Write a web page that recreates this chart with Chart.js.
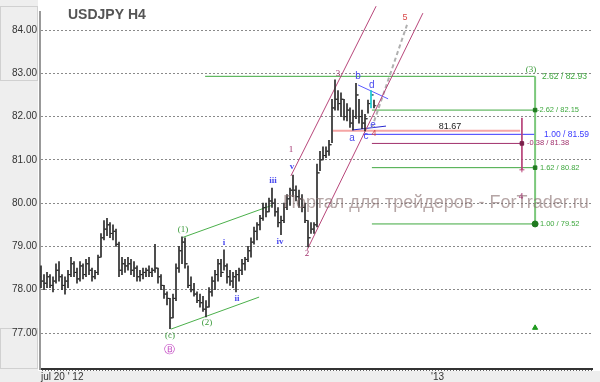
<!DOCTYPE html>
<html>
<head>
<meta charset="utf-8">
<script src="https://cdn.jsdelivr.net/npm/chart.js@4.4.0/dist/chart.umd.min.js"></script>
<style>
  html, body { margin: 0; padding: 0; background: #fff; }
</style>
</head>
<body>
<canvas id="myChart" width="600" height="382"></canvas>
<script>
// USDJPY H4 bars, one every bar index (x = bar number from jul 20 '12)
const highs = [78.55,78.35,78.4,78.35,78.3,78.6,78.65,78.35,78.3,78.45,
  78.75,78.65,78.5,78.65,78.6,78.7,78.75,78.5,78.45,78.8,
  79.3,79.6,79.65,79.55,79.5,79.4,79.1,78.75,78.7,78.75,
  78.7,78.65,78.55,78.45,78.5,78.5,78.55,78.5,79.05,78.5,
  78.35,78.1,77.95,77.8,77.9,78.6,79.0,79.22,79.2,78.55,
  78.3,78.15,77.95,77.9,77.85,77.75,78.05,78.3,78.45,78.7,
  78.7,78.92,78.6,78.45,78.4,78.45,78.5,78.7,78.75,79.0,
  79.2,79.45,79.55,79.72,80.0,80.0,80.12,80.35,80.1,79.9,
  79.7,80.0,80.2,80.35,80.65,80.4,80.3,80.2,80.0,79.6,
  79.55,79.55,80.9,81.2,81.3,81.3,81.45,82.4,82.85,82.6,
  82.55,82.4,82.3,82.2,82.15,82.77,82.4,82.15,82.05,82.38,
  82.6,82.38];
const lows = [78.05,78.0,78.05,78.05,77.95,78.15,78.2,78.0,77.9,78.05,
  78.3,78.3,78.15,78.2,78.25,78.3,78.35,78.2,78.25,78.35,
  78.75,79.15,79.25,79.2,79.15,79.0,78.3,78.35,78.4,78.45,
  78.35,78.3,78.2,78.2,78.25,78.3,78.3,78.3,78.4,78.15,
  78.0,77.8,77.65,77.1,77.35,77.75,78.4,78.6,78.5,78.05,
  77.95,77.85,77.7,77.6,77.5,77.37,77.6,77.85,78.0,78.2,
  78.3,78.45,78.15,78.1,78.05,77.95,78.2,78.35,78.45,78.65,
  78.75,79.05,79.15,79.38,79.6,79.68,79.8,79.9,79.7,79.45,
  79.27,79.55,79.85,79.95,80.15,80.05,79.9,79.8,79.55,78.99,
  79.3,79.3,79.45,80.75,81.0,81.05,81.1,81.4,82.15,82.15,
  82.0,81.92,81.9,81.75,81.69,81.95,81.85,81.72,81.67,82.08,
  82.2,82.2];
const closes = [78.2,78.15,78.3,78.1,78.2,78.45,78.3,78.1,78.2,78.35,
  78.6,78.4,78.25,78.55,78.35,78.6,78.45,78.3,78.4,78.75,
  79.2,79.4,79.5,79.3,79.35,79.05,78.45,78.6,78.55,78.6,
  78.45,78.5,78.3,78.35,78.4,78.45,78.4,78.45,78.5,78.3,
  78.1,77.9,77.8,77.35,77.8,78.5,78.9,79.1,78.6,78.1,
  78.0,77.9,77.75,77.7,77.55,77.6,77.95,78.2,78.35,78.6,
  78.4,78.55,78.3,78.2,78.3,78.35,78.45,78.6,78.7,78.9,
  79.1,79.35,79.5,79.65,79.9,79.8,80.05,80.0,79.8,79.55,
  79.6,79.9,80.1,80.3,80.3,80.15,80.1,79.9,79.6,79.2,
  79.4,79.5,80.7,81.0,81.1,81.2,81.35,82.2,82.4,82.3,
  82.4,82.0,82.15,81.85,82.0,82.5,82.0,81.85,81.95,82.3,
  82.5,82.25];
const firstOpen = 78.3;
const highlightBar = 110;

const priceTicks = [77, 78, 79, 80, 81, 82, 83, 84];
const timeTicks = [0, 130];
const timeLabels = ["jul 20 ' 12", "'13"];

// wave markup, in bar index / price
const trendUpper = [[47.3, 79.21], [77.0, 79.95]];
const trendLower = [[43.3, 77.09], [72.7, 77.83]];
const channelTop = [[83.3, 80.63], [111.7, 84.55]];
const channelBottom = [[88.7, 78.92], [127.3, 84.39]];
const projection = [[110.3, 81.74], [122, 84.12]];
const triangleTop = [[105.7, 82.73], [115.7, 82.41]];
const triangleBottom = [[103.7, 81.69], [115, 81.78]];

// fibonacci levels on the right
const fibLevels = [82.93, 82.15, 81.59, 81.38, 80.82, 79.52];
const fibStart = [54.7, 110.3, 107.3, 110.3, 110.3, 110.3];
const fibEnd = [164.7, 164.3, 164.7, 160.3, 164.3, 164.3];
const fibText = ["2.62 / 82.93", "-2.62 / 82.15", "1.00 / 81.59", "-0.38 / 81.38", "1.62 / 80.82", "1.00 / 79.52"];
const fibTextX = [167, 165.3, 167.7, 162, 166.3, 166.3];
const pivotLevel = 81.67;
const pivotSpan = [97.3, 159.7];
const fibAxisX = 164.7;
const wave4AxisX = 160.3;
const wave4Span = [81.97, 80.77];
const targetMark = [164.7, 77.12];

const greenLabels = [["(1)", 47.3, 79.38], ["(2)", 55.3, 77.25], ["(c)", 43, 76.95], ["(3)", 163.3, 83.08]];
const romanLabels = [["i", 61, 79.08], ["ii", 65.3, 77.79], ["iii", 77.3, 80.53], ["iv", 79.7, 79.1], ["v", 83.7, 80.84]];
const impulseLabels = [["1", 83.3, 81.23], ["2", 88.7, 78.83], ["3", 99, 83.0], ["4", 160, 80.14]];
const redLabels = [["4", 111, 81.62], ["5", 121.3, 84.28]];
const triangleLabels = [["a", 103.7, 81.5], ["b", 105.7, 82.94], ["c", 108.3, 81.55], ["d", 110.3, 82.73], ["e", 110.7, 81.81]];
const circledLabel = ["\u24B7", 43, 76.61];

const grapharea = document.getElementById("myChart");
const SANS = "'Liberation Sans', Arial, sans-serif";
const SERIF = "'Liberation Serif', 'Times New Roman', serif";

const opens = [firstOpen].concat(closes.slice(0, -1));

function seg(points, color, width, dash) {
  return {
    type: "line",
    data: points.map((p) => ({ x: p[0], y: p[1] })),
    borderColor: color,
    borderWidth: width,
    borderDash: dash || [],
    pointRadius: 0,
    fill: false,
    clip: false,
    order: 2,
  };
}

function marks(points, color, style, r) {
  return {
    type: "line",
    data: points.map((p) => ({ x: p[0], y: p[1] })),
    showLine: false,
    pointStyle: style,
    pointRadius: r,
    pointBackgroundColor: color,
    pointBorderColor: color,
    pointBorderWidth: 1,
    clip: false,
    order: 0,
  };
}

const datasets = [
  {
    type: "bar",
    data: highs.map((h, i) => ({ x: i, y: [lows[i], h] })),
    backgroundColor: (ctx) => (ctx.dataIndex === highlightBar ? "#10c8d0" : "#2b2b2b"),
    barThickness: 1,
    order: 1,
  },
  {
    type: "line",
    data: opens.map((o, i) => ({ x: i - 0.45, y: o })),
    showLine: false,
    pointStyle: "line",
    pointRadius: 1,
    pointBorderColor: "#2b2b2b",
    pointBorderWidth: 1,
    order: 1,
  },
  {
    type: "line",
    data: closes.map((c, i) => ({ x: i + 0.45, y: c })),
    showLine: false,
    pointStyle: "line",
    pointRadius: 1,
    pointBorderColor: (ctx) => (ctx.dataIndex === highlightBar ? "#10c8d0" : "#2b2b2b"),
    pointBorderWidth: 1,
    order: 1,
  },
  seg(trendUpper, "#4bb04b", 1),
  seg(trendLower, "#4bb04b", 1),
  seg(channelTop, "#b8467a", 1),
  seg(channelBottom, "#b8467a", 1),
  seg(projection, "#b0b0b0", 2, [4, 3]),
  seg(triangleTop, "#5a5aff", 1),
  seg(triangleBottom, "#2a2ad0", 1),
  seg([[pivotSpan[0], pivotLevel], [pivotSpan[1], pivotLevel]], "#f5a5a5", 2),
  seg([[fibAxisX, fibLevels[0]], [fibAxisX, fibLevels[5]]], "#7cc87c", 2),
  seg([[wave4AxisX, wave4Span[0]], [wave4AxisX, wave4Span[1]]], "#b8467a", 1),
];

const fibColors = ["#3fa83f", "#3fa83f", "#3a3aff", "#a0306c", "#3fa83f", "#3fa83f"];
fibLevels.forEach((lvl, i) => {
  datasets.push(seg([[fibStart[i], lvl], [fibEnd[i], lvl]], fibColors[i], 1));
});

datasets.push(marks([[fibAxisX, fibLevels[1]], [fibAxisX, fibLevels[4]]], "#1f7a1f", "rect", 2.5));
datasets.push(marks([[fibAxisX, fibLevels[5]]], "#1f7a1f", "circle", 3));
datasets.push(marks([targetMark], "#1f9a1f", "triangle", 3));
datasets.push(marks([[wave4AxisX, fibLevels[3]]], "#7a1f4a", "rect", 2.5));
datasets.push(marks([[wave4AxisX, wave4Span[1]]], "#b8467a", "cross", 2.5));

const decor = {
  id: "decor",
  beforeDraw(chart) {
    const ctx = chart.ctx;
    ctx.save();
    ctx.fillStyle = "#ffffff";
    ctx.fillRect(0, 0, 600, 382);
    ctx.fillStyle = "#eeeeee";
    ctx.fillRect(0, 0, 38, 382);
    ctx.fillRect(0, 371, 600, 11);
    ctx.strokeStyle = "#d0d0d0";
    ctx.lineWidth = 1;
    ctx.strokeRect(0.5, 6.5, 37, 74);
    ctx.strokeRect(0.5, 328.5, 37, 40);
    ctx.restore();
  },
  afterDatasetsDraw(chart) {
    // watermark sits over the bars, semi transparent
    const ctx = chart.ctx;
    const xs = chart.scales.x, ys = chart.scales.y;
    ctx.save();
    ctx.font = "18px " + SANS;
    ctx.fillStyle = "rgba(135,110,110,0.62)";
    ctx.textBaseline = "middle";
    ctx.textAlign = "left";
    ctx.fillText("Портал для трейдеров - ForTrader.ru", xs.getPixelForValue(80.7), ys.getPixelForValue(80.0));
    ctx.restore();
  },
  afterDraw(chart) {
    const ctx = chart.ctx;
    const xs = chart.scales.x, ys = chart.scales.y;
    const put = (list, font, color, align) => {
      ctx.font = font;
      ctx.fillStyle = color;
      ctx.textAlign = align || "center";
      ctx.textBaseline = "middle";
      list.forEach((l) => ctx.fillText(l[0], xs.getPixelForValue(l[1]), ys.getPixelForValue(l[2])));
    };
    ctx.save();
    ctx.font = "bold 14px " + SANS;
    ctx.fillStyle = "#555555";
    ctx.textAlign = "left";
    ctx.textBaseline = "middle";
    ctx.fillText("USDJPY H4", 68, 15);

    put(greenLabels, "9px " + SERIF, "#3a9a3a");
    put(romanLabels, "bold 9px " + SERIF, "#4a4aee");
    put(impulseLabels, "9px " + SERIF, "#a0306c");
    put(redLabels, "9px " + SANS, "#d84848");
    put(triangleLabels, "10px " + SANS, "#4a4aee");
    put([circledLabel], "11px 'DejaVu Sans', sans-serif", "#c040c0");
    put([["81.67", 136.3, 81.76]], "9px " + SANS, "#222222");

    fibLevels.forEach((lvl, i) => {
      const big = i === 0 || i === 2;
      put([[fibText[i], fibTextX[i], lvl]], (big ? "8.5px " : "7.5px ") + SANS, fibColors[i], "left");
    });
    ctx.restore();
  },
};

const config = {
  type: "bar",
  data: { datasets: datasets },
  options: {
    responsive: false,
    animation: false,
    layout: { padding: { top: 12, right: 8, left: 0, bottom: 0 } },
    plugins: { legend: { display: false }, tooltip: { enabled: false }, title: { display: false } },
    scales: {
      x: {
        type: "linear",
        min: -1 / 3,
        max: 183.667,
        offset: false,
        afterBuildTicks: (axis) => {
          const t = [];
          for (let i = 0; i <= 183; i++) t.push({ value: i });
          axis.ticks = t;
        },
        afterFit: (axis) => { axis.height = 13; },
        grid: { drawOnChartArea: false, drawTicks: true, tickLength: 2, color: "#666666" },
        border: { display: true, color: "#333333", width: 2 },
        ticks: {
          autoSkip: false,
          maxRotation: 0,
          minRotation: 0,
          align: "start",
          padding: 0,
          color: "#333333",
          font: { family: SANS, size: 10 },
          callback: (v) => {
            const k = timeTicks.indexOf(v);
            return k >= 0 ? timeLabels[k] : "";
          },
        },
      },
      y: {
        type: "linear",
        position: "left",
        min: 76.169,
        max: 84.416,
        afterBuildTicks: (axis) => { axis.ticks = priceTicks.map((v) => ({ value: v })); },
        afterFit: (axis) => { axis.width = 40; },
        grid: { color: "#8a8a8a", drawTicks: false, lineWidth: 1 },
        border: { display: true, color: "#999999", width: 2, dash: [2, 2] },
        ticks: {
          padding: 3,
          color: "#333333",
          font: { family: SANS, size: 10 },
          callback: (v) => Number(v).toFixed(2),
        },
      },
    },
  },
  plugins: [decor],
};

const myChart = new Chart(grapharea, config);
</script>
</body>
</html>
